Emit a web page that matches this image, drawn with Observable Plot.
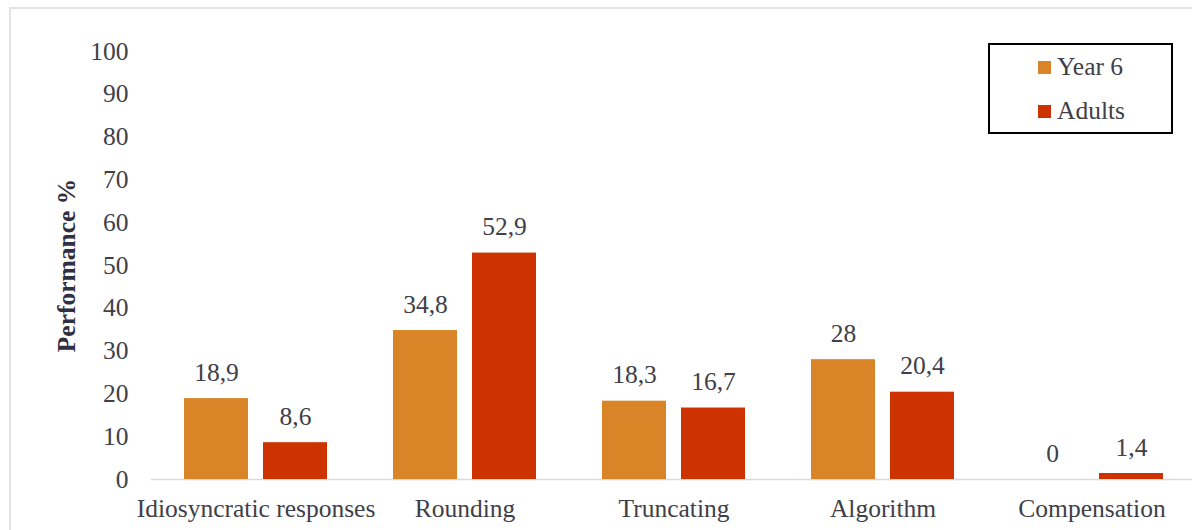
<!DOCTYPE html>
<html>
<head>
<meta charset="utf-8">
<script src="https://cdn.jsdelivr.net/npm/d3@7"></script>
<script src="https://cdn.jsdelivr.net/npm/@observablehq/plot@0.6"></script>
<style>
  html, body { margin: 0; padding: 0; background: #fff; overflow: hidden; }
  #wrap { position: relative; width: 1192px; height: 530px; overflow: hidden;
          font-family: "Liberation Serif", "Times New Roman", serif; color: #404048; }
  #frame { position: absolute; left: 9px; top: 7px; width: 1400px; height: 800px;
           border-left: 2px solid #e3e3ea; border-top: 2px solid #e3e3ea; box-sizing: border-box; }
  #chart { position: absolute; left: 0; top: 0; }
  #chart g[aria-label="y-axis label"] text { font-weight: bold; fill: #303040; }
  #legend { position: absolute; left: 988px; top: 43px; width: 185px; height: 91px;
            border: 2px solid #000; box-sizing: border-box; background: #fff; padding-left: 48px; }
  .item { display: flex; align-items: center; height: 44px; font-size: 25.5px; }
  .swatch { width: 13px; height: 13px; margin-right: 6px; flex: none; }
</style>
</head>
<body>
<div id="wrap">
  <div id="frame"></div>
  <div id="chart"></div>
  <div id="legend"></div>
</div>
<script>
// Share of each strategy, by group (%)
const categories = ["Idiosyncratic responses", "Rounding", "Truncating", "Algorithm", "Compensation"];
const series = ["Year 6", "Adults"];
const year6 = [18.9, 34.8, 18.3, 28, 0];
const adults = [8.6, 52.9, 16.7, 20.4, 1.4];
const yTicks = [0, 10, 20, 30, 40, 50, 60, 70, 80, 90, 100];
const colors = ["#d98426", "#cc3300"];

const rows = categories.flatMap((c, i) => [
  {category: c, series: series[0], value: year6[i]},
  {category: c, series: series[1], value: adults[i]}
]);

const fmt = v => String(v).replace(".", ",");
const fs = 25.5;
const ink = "#404048";

const chart = Plot.plot({
  width: 1192,
  height: 530,
  marginTop: 51,
  marginBottom: 51,
  marginLeft: 150,
  marginRight: 0,
  style: {fontFamily: "'Liberation Serif', 'Times New Roman', serif", fontSize: fs + "px", color: ink, background: "transparent"},
  fx: {domain: categories, range: [150.5, 1196.75], padding: 0},
  x: {domain: series, paddingInner: 0.19, paddingOuter: 0.411, axis: null},
  y: {domain: [0, 100]},
  color: {domain: series, range: colors},
  marks: [
    Plot.ruleY([0], {stroke: "#d9d9e0", strokeWidth: 1.5}),
    Plot.barY(rows, {fx: "category", x: "series", y: "value", fill: "series"}),
    Plot.text(rows, {fx: "category", x: "series", y: "value", text: d => fmt(d.value),
                     dy: -26, fontSize: fs, fill: ink}),
    Plot.axisY({ticks: yTicks, tickSize: 0, tickPadding: 23, fontSize: fs, fill: ink,
                label: "Performance %", labelAnchor: "center", labelOffset: 95, labelArrow: "none"}),
    Plot.axisFx({anchor: "bottom", tickSize: 0, tickPadding: 19, fontSize: fs, fill: ink, label: null})
  ]
});
document.getElementById("chart").appendChild(chart);

// Legend
const legend = d3.select("#legend");
series.forEach((s, i) => {
  const item = legend.append("div").attr("class", "item");
  item.append("div").attr("class", "swatch").style("background", colors[i]);
  item.append("span").text(s);
});
</script>
</body>
</html>
